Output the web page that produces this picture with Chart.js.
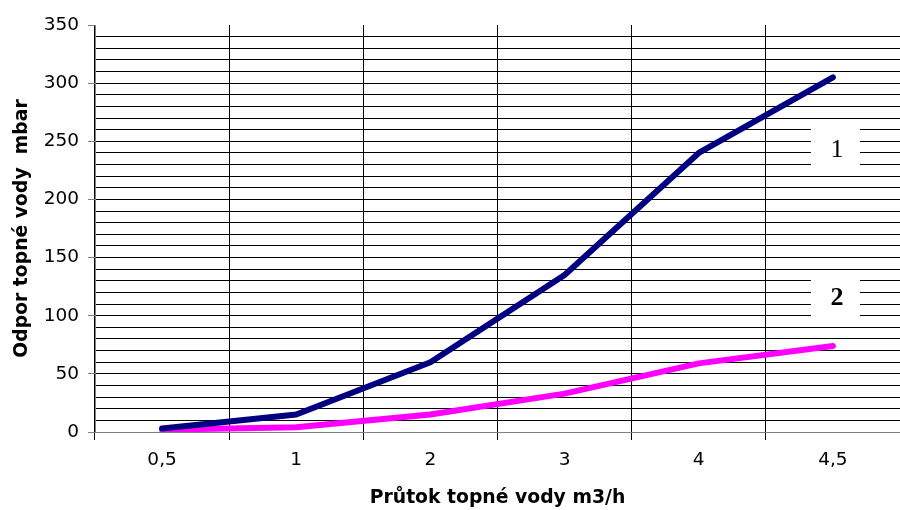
<!DOCTYPE html>
<html>
<head>
<meta charset="utf-8">
<script src="https://cdn.jsdelivr.net/npm/chart.js@4"></script>
<style>
  html, body { margin: 0; padding: 0; background: #fff; }
  #wrap { width: 900px; height: 510px; }
</style>
</head>
<body>
<div id="wrap"><canvas id="chartCanvas" width="900" height="510"></canvas></div>
<script>
// --- data ---
const flowLabels = ["0,5", "1", "2", "3", "4", "4,5"];
const curve1 = [3, 15, 60, 135, 240, 305];
const curve2 = [2, 4, 15, 33, 59, 74];

// curve tags drawn in boxes on the right
const tagTexts = ["1", "2"];
const tagValues = [244, 117];

const canvas = document.getElementById("chartCanvas");
const sans = "'DejaVu Sans', Arial, sans-serif";

// white boxes with the curve numbers
const curveTags = {
  id: "curveTags",
  afterDatasetsDraw(chart) {
    const ctx = chart.ctx;
    const x = chart.scales.x.getPixelForValue(flowLabels.length - 1);
    ctx.save();
    tagTexts.forEach((t, i) => {
      const y = chart.scales.y.getPixelForValue(tagValues[i]);
      ctx.fillStyle = "#fff";
      ctx.fillRect(x - 22, y - 24, 49, 48);
      ctx.fillStyle = "#000";
      ctx.font = (i === 1 ? "bold " : "") + "26px 'Liberation Serif', 'Times New Roman', serif";
      ctx.textAlign = "center";
      ctx.textBaseline = "middle";
      ctx.fillText(t, x + 4, y + 2);
    });
    ctx.restore();
  }
};

new Chart(canvas, {
  type: "line",
  data: {
    labels: flowLabels,
    datasets: [
      {
        label: "1",
        data: curve1,
        borderColor: "#000080",
        borderWidth: 6,
        borderCapStyle: "round",
        borderJoinStyle: "round",
        pointRadius: 0,
        tension: 0
      },
      {
        label: "2",
        data: curve2,
        borderColor: "#ff00ff",
        borderWidth: 6,
        borderCapStyle: "round",
        borderJoinStyle: "round",
        pointRadius: 0,
        tension: 0
      }
    ]
  },
  options: {
    responsive: false,
    animation: false,
    layout: { padding: { top: 25, right: 0, left: 0, bottom: 0 } },
    plugins: {
      legend: { display: false },
      tooltip: { enabled: false }
    },
    scales: {
      x: {
        type: "category",
        offset: true,
        grid: {
          offset: true,
          color: "#000",
          lineWidth: 1,
          tickLength: 8
        },
        border: { color: "#808080" },
        ticks: {
          color: "#000",
          font: { family: sans, size: 18.5 },
          padding: 9,
          maxRotation: 0
        },
        title: {
          display: true,
          text: "Průtok topné vody m3/h",
          color: "#000",
          font: { family: sans, size: 18.8, weight: "bold" },
          padding: { top: 0, bottom: 1 }
        },
        afterFit(scale) { scale.height = 78; }
      },
      y: {
        min: 0,
        max: 350,
        grid: {
          color: c => (c.tick && c.tick.value === 350 ? "rgba(0,0,0,0)" : "#000"),
          tickColor: c => (c.tick && c.tick.value % 50 === 0 ? "#808080" : "rgba(0,0,0,0)"),
          lineWidth: 1,
          tickLength: 7
        },
        border: { color: "#808080" },
        ticks: {
          stepSize: 10,
          autoSkip: false,
          color: "#000",
          font: { family: sans, size: 18.5 },
          padding: 9,
          callback: v => (v % 50 === 0 ? v : "")
        },
        title: {
          display: true,
          text: "Odpor topné vody  mbar",
          color: "#000",
          font: { family: sans, size: 18.8, weight: "bold" },
          padding: { top: 11, bottom: 0 }
        },
        afterFit(scale) { scale.width = 95; }
      }
    }
  },
  plugins: [curveTags]
});
</script>
</body>
</html>
